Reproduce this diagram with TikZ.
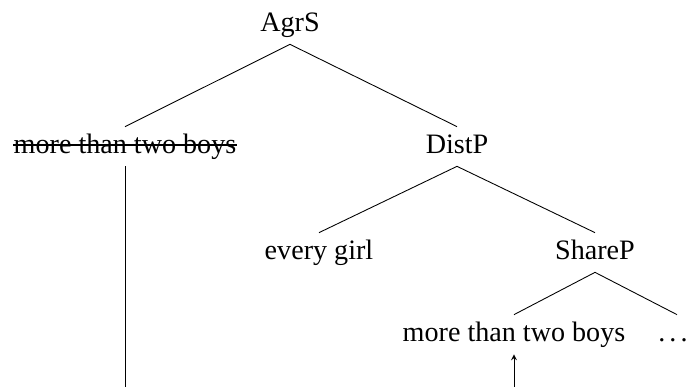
\documentclass[tikz,border=0pt]{standalone}
\usepackage{fontspec}
\setmainfont{Liberation Serif}
\usetikzlibrary{arrows.meta}

\tikzset{
  cat/.style={anchor=base, inner xsep=0pt, inner ysep=.14cm, text height=.40cm, text depth=.10cm},
  branch/.style={line width=.5pt},
  strike/.style={line width=1.6pt},
}

\begin{document}
\begin{tikzpicture}
{\fontsize{16}{19}\selectfont
\useasboundingbox (0,0) rectangle (13.74,7.74);

\node [cat] (agrs) at (5.80,7.10) {AgrS};
\node [cat] (copy) at (2.50,4.66) {more than two boys};
\node [cat] (distp) at (9.14,4.66) {DistP};
\node [cat] (girl) at (6.38,2.54) {every girl};
\node [cat] (sharep) at (11.90,2.54) {ShareP};
\node [cat] (boys) at (10.28,0.90) {more than two boys};
\node [cat] (dots) at (13.46,0.90) {.\hspace{.08cm}.\hspace{.08cm}.};

\coordinate (copyfoot) at (2.50,0);
\coordinate (boysfoot) at (10.28,0);

\draw [branch] (agrs.south) -- (copy.north);
\draw [branch] (agrs.south) -- (distp.north);
\draw [branch] (distp.south) -- (girl.north);
\draw [branch] (distp.south) -- (sharep.north);
\draw [branch] (sharep.south) -- (boys.north);
\draw [branch] (sharep.south) -- ([xshift=.08cm]dots.north);

\draw [strike] ([yshift=.18cm]copy.base west) -- ([yshift=.18cm]copy.base east);

\draw [branch] (copy.south) -- (copyfoot);
\draw [branch, -stealth] (boysfoot) -- (boys.south);
}
\end{tikzpicture}
\end{document}
